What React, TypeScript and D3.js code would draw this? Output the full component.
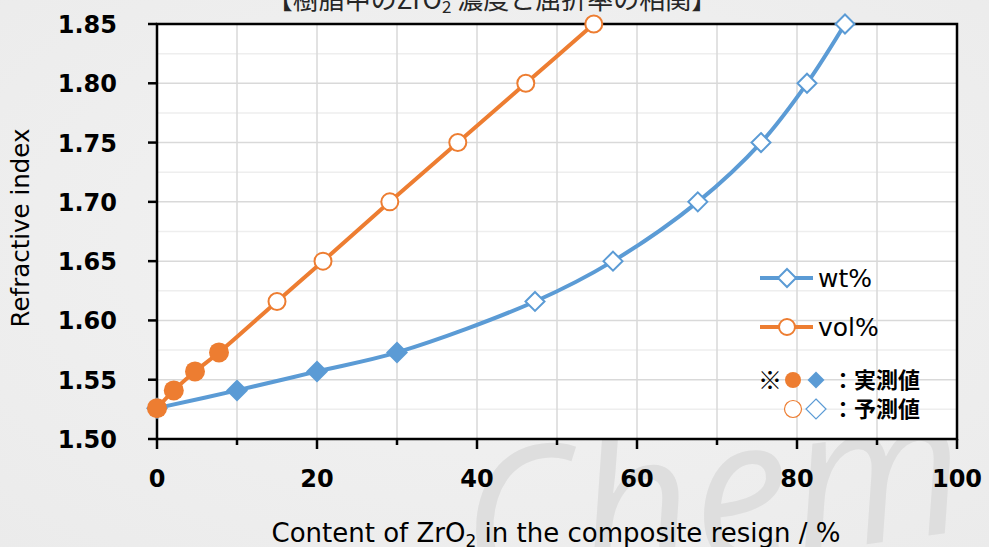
import React from "react";
import * as d3 from "d3";

// vol% series (orange)
const volX = [0, 2.1, 4.75, 7.75, 15, 20.75, 29.1, 37.6, 46.1, 54.6];
const volY = [1.526, 1.541, 1.557, 1.573, 1.616, 1.650, 1.700, 1.750, 1.800, 1.850];
const volMeasured = [true, true, true, true, false, false, false, false, false, false];

// wt% series (blue)
const wtX = [0, 10, 20, 30, 47.25, 57, 67.6, 75.5, 81.25, 86];
const wtY = [1.526, 1.541, 1.557, 1.573, 1.616, 1.650, 1.700, 1.750, 1.800, 1.850];
const wtMeasured = [true, true, true, true, false, false, false, false, false, false];

const xTicks = [0, 20, 40, 60, 80, 100];
const yTicks = [1.5, 1.55, 1.6, 1.65, 1.7, 1.75, 1.8, 1.85];

const W = 989, H = 547;
const BLUE = "#5b9bd5", ORANGE = "#ed7d31";
const TICK_FONT = "'DejaVu Sans', Verdana, sans-serif";
const JP_FONT = "'Noto Sans CJK JP', sans-serif";

export default function App() {
  const x = d3.scaleLinear().domain([0, 100]).range([157, 957]);
  const y = d3.scaleLinear().domain([1.5, 1.85]).range([439, 24]);

  const line = d3.line<[number, number]>()
    .x(d => x(d[0]))
    .y(d => y(d[1]))
    .curve(d3.curveCatmullRom.alpha(0.5));

  const volPts = volX.map((v, i) => [v, volY[i]] as [number, number]);
  const wtPts = wtX.map((v, i) => [v, wtY[i]] as [number, number]);

  const minorY = d3.range(1.525, 1.85, 0.05);
  const gridX = d3.range(10, 100, 10);

  const diamond = (cx: number, cy: number, r: number) =>
    `M${cx},${cy - r}L${cx + r},${cy}L${cx},${cy + r}L${cx - r},${cy}Z`;

  return (
    <svg width={W} height={H} style={{ position: "absolute", left: 0, top: 0 }}>
      <defs>
        <radialGradient id="bg" cx="0.5" cy="0.45" r="0.75">
          <stop offset="0" stopColor="#f3f3f3" />
          <stop offset="1" stopColor="#ebebeb" />
        </radialGradient>
      </defs>
      <rect width={W} height={H} fill="url(#bg)" />
      {/* faint watermark */}
      <text x={470} y={600} fontSize={200} fontStyle="italic" fontFamily="'Open Sans', sans-serif"
        fill="#dedede" transform="rotate(-8 470 600)">Chem</text>

      {/* title (cut at top) */}
      <text x={492} y={9} textAnchor="middle" fontSize={26} fontFamily={JP_FONT} fill="#262626">
        【樹脂中のZrO<tspan fontSize={17} dy={4}>2</tspan><tspan dy={-4}> 濃度と屈折率の相関】</tspan>
      </text>

      {/* plot area */}
      <rect x={157} y={24} width={800} height={415} fill="#ffffff" />
      {minorY.map(v => (
        <line key={"m" + v} x1={157} x2={957} y1={y(v)} y2={y(v)} stroke="#eeeeee" strokeWidth={1.5} />
      ))}
      {yTicks.slice(1, -1).map(v => (
        <line key={"g" + v} x1={157} x2={957} y1={y(v)} y2={y(v)} stroke="#d9d9d9" strokeWidth={1.5} />
      ))}
      {gridX.map(v => (
        <line key={"gx" + v} x1={x(v)} x2={x(v)} y1={24} y2={439} stroke="#d9d9d9" strokeWidth={1.5} />
      ))}
      <rect x={157} y={24} width={800} height={415} fill="none" stroke="#000" strokeWidth={2.5} />

      {/* ticks */}
      {d3.range(0, 101, 10).map(v => (
        <line key={"tx" + v} x1={x(v)} x2={x(v)} y1={439} y2={v % 20 === 0 ? 449 : 445} stroke="#000" strokeWidth={2.5} />
      ))}
      {yTicks.map(v => (
        <line key={"ty" + v} x1={148} x2={157} y1={y(v)} y2={y(v)} stroke="#000" strokeWidth={2.5} />
      ))}
      {xTicks.map(v => (
        <text key={"lx" + v} x={x(v)} y={487} textAnchor="middle" fontSize={24} fontWeight="bold" fontFamily={TICK_FONT} fill="#000">{v}</text>
      ))}
      {yTicks.map(v => (
        <text key={"ly" + v} x={117} y={y(v) + 9} textAnchor="end" fontSize={24} fontWeight="bold" fontFamily={TICK_FONT} fill="#000">{v.toFixed(2)}</text>
      ))}

      {/* axis titles */}
      <text transform="translate(29,228) rotate(-90)" textAnchor="middle" fontSize={24.5} fontFamily={TICK_FONT} fill="#000">Refractive index</text>
      <text x={556} y={542} textAnchor="middle" fontSize={26} fontFamily={TICK_FONT} fill="#000">
        Content of ZrO<tspan fontSize={17} dy={5}>2</tspan><tspan dy={-5}> in the composite resign / %</tspan>
      </text>

      {/* series */}
      <path d={line(wtPts) || ""} fill="none" stroke={BLUE} strokeWidth={4} />
      <path d={line(volPts) || ""} fill="none" stroke={ORANGE} strokeWidth={4} />
      {wtPts.map((d, i) => wtMeasured[i] ? (
        <path key={"w" + i} d={diamond(x(d[0]), y(d[1]), 11)} fill={BLUE} />
      ) : (
        <path key={"w" + i} d={diamond(x(d[0]), y(d[1]), 9.5)} fill="#fff" stroke={BLUE} strokeWidth={2} />
      ))}
      {volPts.map((d, i) => volMeasured[i] ? (
        <circle key={"v" + i} cx={x(d[0])} cy={y(d[1])} r={10} fill={ORANGE} />
      ) : (
        <circle key={"v" + i} cx={x(d[0])} cy={y(d[1])} r={8.5} fill="#fff" stroke={ORANGE} strokeWidth={2} />
      ))}

      {/* legend */}
      <line x1={760} x2={813} y1={278} y2={278} stroke={BLUE} strokeWidth={4} />
      <path d={diamond(787, 278, 9)} fill="#fff" stroke={BLUE} strokeWidth={2} />
      <text x={818} y={287} fontSize={25} fontFamily={TICK_FONT} fill="#000">wt%</text>
      <line x1={760} x2={813} y1={327} y2={327} stroke={ORANGE} strokeWidth={4} />
      <circle cx={787} cy={327} r={8} fill="#fff" stroke={ORANGE} strokeWidth={2} />
      <text x={818} y={336} fontSize={25} fontFamily={TICK_FONT} fill="#000">vol%</text>

      <text x={758} y={389} fontSize={24} fontWeight="900" fontFamily={JP_FONT} fill="#000">※</text>
      <circle cx={793} cy={380} r={8} fill={ORANGE} />
      <path d={diamond(816, 380, 8.5)} fill={BLUE} />
      <text x={832} y={388} fontSize={22} fontWeight="bold" fontFamily={JP_FONT} fill="#000">：実測値</text>
      <circle cx={793} cy={409} r={8.5} fill="#fff" stroke={ORANGE} strokeWidth={1.2} />
      <path d={diamond(816, 409, 10)} fill="#fff" stroke={BLUE} strokeWidth={1.2} />
      <text x={832} y={417} fontSize={22} fontWeight="bold" fontFamily={JP_FONT} fill="#000">：予測値</text>
    </svg>
  );
}
